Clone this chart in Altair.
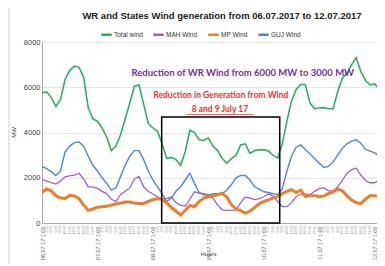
import altair as alt
import pandas as pd

hours = list(range(0, 148, 2))

total_wind = [5.75,5.8,5.55,5.15,5.45,6.35,6.75,6.93,6.88,6.45,
              5.1,4.6,4.5,4.2,3.8,3.2,3.4,3.9,4.6,5.3,
              6.05,6.1,5.25,4.4,4.2,4.05,3.5,2.85,2.9,2.8,
              2.55,3.15,4.1,4.0,3.68,3.65,3.75,3.4,3.2,2.85,
              2.65,2.85,3.0,3.45,3.5,3.08,3.2,3.23,3.23,3.18,
              3.0,2.87,3.5,4.5,5.4,5.9,6.12,6.12,5.3,5.05,
              5.08,5.1,5.05,5.05,5.8,6.4,6.6,7.0,7.3,6.7,
              6.3,6.1,6.15,5.9]
guj_wind = [2.5,2.4,2.27,2.1,2.3,3.15,3.4,3.55,3.58,3.4,
            2.95,2.55,2.3,2.0,1.75,1.45,1.55,2.05,2.55,2.95,
            3.2,3.2,2.8,2.3,1.9,1.6,1.3,0.95,1.1,1.4,
            1.6,1.9,2.2,1.75,1.35,1.25,1.23,1.3,1.3,1.3,
            1.45,1.7,2.0,2.1,2.1,1.9,1.6,1.5,1.38,1.35,
            1.3,1.25,1.5,2.3,2.95,3.35,3.45,3.25,3.05,2.85,
            2.64,2.45,2.5,2.7,3.0,3.3,3.5,3.62,3.68,3.53,
            3.25,3.18,3.1,2.95]
mah_wind = [1.93,1.85,1.78,1.72,1.85,2.04,2.08,2.12,2.2,1.95,
            1.6,1.6,1.53,1.4,1.3,1.05,0.95,1.25,1.4,1.55,
            1.95,2.05,1.6,1.4,1.28,1.16,1.05,1.08,1.15,0.9,
            0.78,0.75,1.05,1.38,1.32,1.3,1.25,1.1,0.8,0.58,
            0.56,0.56,0.58,0.9,1.15,1.1,1.03,1.08,1.16,1.28,
            1.2,0.95,0.72,0.72,0.9,1.16,1.28,1.28,1.25,1.4,
            1.52,1.55,1.43,1.4,1.6,1.88,2.2,2.36,2.42,2.12,
            1.88,1.78,1.78,1.9]
mp_wind = [1.35,1.5,1.42,1.2,1.1,1.08,1.22,1.2,1.08,0.8,
           0.56,0.62,0.7,0.72,0.74,0.79,0.84,0.88,0.93,0.93,
           0.88,0.86,0.86,0.96,1.03,1.08,1.03,0.9,0.68,0.52,
           0.35,0.55,0.78,0.72,0.95,1.1,1.16,1.2,1.25,1.31,
           1.15,0.8,0.62,0.55,0.44,0.52,0.68,0.85,0.95,1.02,
           1.1,1.18,1.3,1.4,1.47,1.35,1.45,1.18,1.2,1.2,
           1.16,1.2,1.3,1.38,1.5,1.42,1.2,1.02,0.9,0.86,
           1.05,1.2,1.2,1.16]

series_names = ["Total wind", "MAH Wind", "MP Wind", "GUJ Wind"]
series_colors = ["#2eaf68", "#9a62c8", "#ee7d2a", "#4f86c6"]
day_hours = [0, 24, 48, 72, 96, 120, 144]
day_labels = ["06.07.17 1:00", "07.07.17 1:00", "08.07.17 1:00", "09.07.17 1:00",
              "10.07.17 1:00", "11.07.17 1:00", "12.07.17 1:00"]

title_text = "WR and States Wind generation from 06.07.2017 to 12.07.2017"
note_purple = "Reduction of WR Wind from 6000 MW to 3000 MW"
note_red1 = "Reduction in  Generation from Wind"
note_red2 = "8 and 9 July 17"

rows = []
for name, vals in [("Total wind", total_wind), ("GUJ Wind", guj_wind),
                   ("MAH Wind", mah_wind), ("MP Wind", mp_wind)]:
    for h, v in zip(hours, vals):
        rows.append({"hour": h, "MW": round(v * 1000), "series": name})
df = pd.DataFrame(rows)

label_arr = "[" + ",".join("'%s'" % d for d in day_labels) + "]"
label_expr = label_arr + "[round(datum.value / 24)]"

x_scale = alt.Scale(domain=[0, 145], nice=False, zero=False)
x_enc = alt.X("hour:Q", scale=x_scale,
              axis=alt.Axis(values=day_hours, labelExpr=label_expr, labelAngle=-90,
                            labelAlign="right", labelBaseline="middle",
                            labelOverlap=False, labelPadding=3, labelFlush=False,
                            labelFontSize=5.5, labelColor="#555",
                            ticks=False, grid=False, domainColor="#aaa",
                            title="Hours", titleFontSize=6, titleFontWeight="normal",
                            titleX=166, titleY=27, titleColor="#444"))
y_enc = alt.Y("MW:Q",
              scale=alt.Scale(domain=[0, 8000], nice=False),
              axis=alt.Axis(values=list(range(0, 8001, 1000)), format="d",
                            labelFontSize=7.5, labelColor="#444", ticks=False,
                            domainColor="#aaa", gridColor="#e6e6e6",
                            title="MW", titleFontSize=6, titleFontWeight="normal",
                            titleColor="#444", titleX=-26, titleY=90))
color_enc = alt.Color("series:N",
                      scale=alt.Scale(domain=series_names, range=series_colors),
                      legend=alt.Legend(orient="none", legendX=58, legendY=-14,
                                        direction="horizontal", title=None,
                                        symbolType="stroke", symbolStrokeWidth=2.5,
                                        symbolSize=110, labelFontSize=6.5,
                                        labelColor="#333", columnPadding=5,
                                        labelOffset=1))

def line(name, width):
    return alt.Chart(df[df.series == name]).mark_line(
        strokeWidth=width, clip=True).encode(x=x_enc, y=y_enc, color=color_enc)

layers = [line("Total wind", 1.6), line("GUJ Wind", 1.4),
          line("MAH Wind", 1.3), line("MP Wind", 3)]

# dense hourly tick labels under the axis
hour_ticks = pd.DataFrame({"hour": [h for h in hours if h % 24 != 0 and h <= 144]})
hour_ticks["label"] = hour_ticks["hour"].map(lambda h: "%d:00" % (h % 24))
hour_layer = alt.Chart(hour_ticks).mark_text(
    angle=270, align="right", baseline="middle", fontSize=3.5, color="#9a9a9a").encode(
    x=alt.X("hour:Q", scale=x_scale), y=alt.value(184), text="label:N")

box = pd.DataFrame({"x": [51.8], "x2": [102.9], "y": [0], "y2": [4684]})
box_layer = alt.Chart(box).mark_rect(fillOpacity=0, stroke="black", strokeWidth=1.5).encode(
    x="x:Q", x2="x2:Q", y="y:Q", y2="y2:Q")

notes = pd.DataFrame({
    "x": [86.9, 77.4, 77.0],
    "y": [6610, 5640, 5050],
    "text": [note_purple, note_red1, note_red2],
    "kind": ["p", "r1", "r2"],
})
purple_text = alt.Chart(notes[notes.kind == "p"]).mark_text(
    font="Lato", fontSize=9.5, fontWeight="bold", color="#7030a0").encode(
    x="x:Q", y="y:Q", text="text:N")
red_text = alt.Chart(notes[notes.kind != "p"]).mark_text(
    font="Lato", fontSize=8.5, fontWeight="bold", color="#f03030").encode(
    x="x:Q", y="y:Q", text="text:N")
underline = pd.DataFrame({"x": [62.5], "x2": [91.5], "y": [4800]})
underline_layer = alt.Chart(underline).mark_rule(color="#f03030", strokeWidth=0.8).encode(
    x="x:Q", x2="x2:Q", y="y:Q")

title_layer = alt.Chart(pd.DataFrame({"t": [title_text]})).mark_text(
    font="Liberation Sans", fontSize=9.5, fontWeight="bold", color="#222",
    align="center", baseline="alphabetic").encode(
    x=alt.value(180), y=alt.value(-23), text="t:N")

frame = alt.Chart(pd.DataFrame({"a": [0]})).mark_rule(color="#cfcfcf", strokeWidth=1).encode(
    x=alt.value(-33), y=alt.value(-34), y2=alt.value(222))

chart = alt.layer(*layers, hour_layer, box_layer, purple_text, red_text,
                  underline_layer, title_layer, frame).properties(
    width=335, height=181,
    autosize=alt.AutoSizeParams(type="none"),
    padding={"left": 34, "top": 34, "right": 0, "bottom": 42},
).configure(font="Liberation Sans", background="white").configure_view(strokeWidth=0)

chart.save("out.html", embed_options={"renderer": "svg", "actions": False})
